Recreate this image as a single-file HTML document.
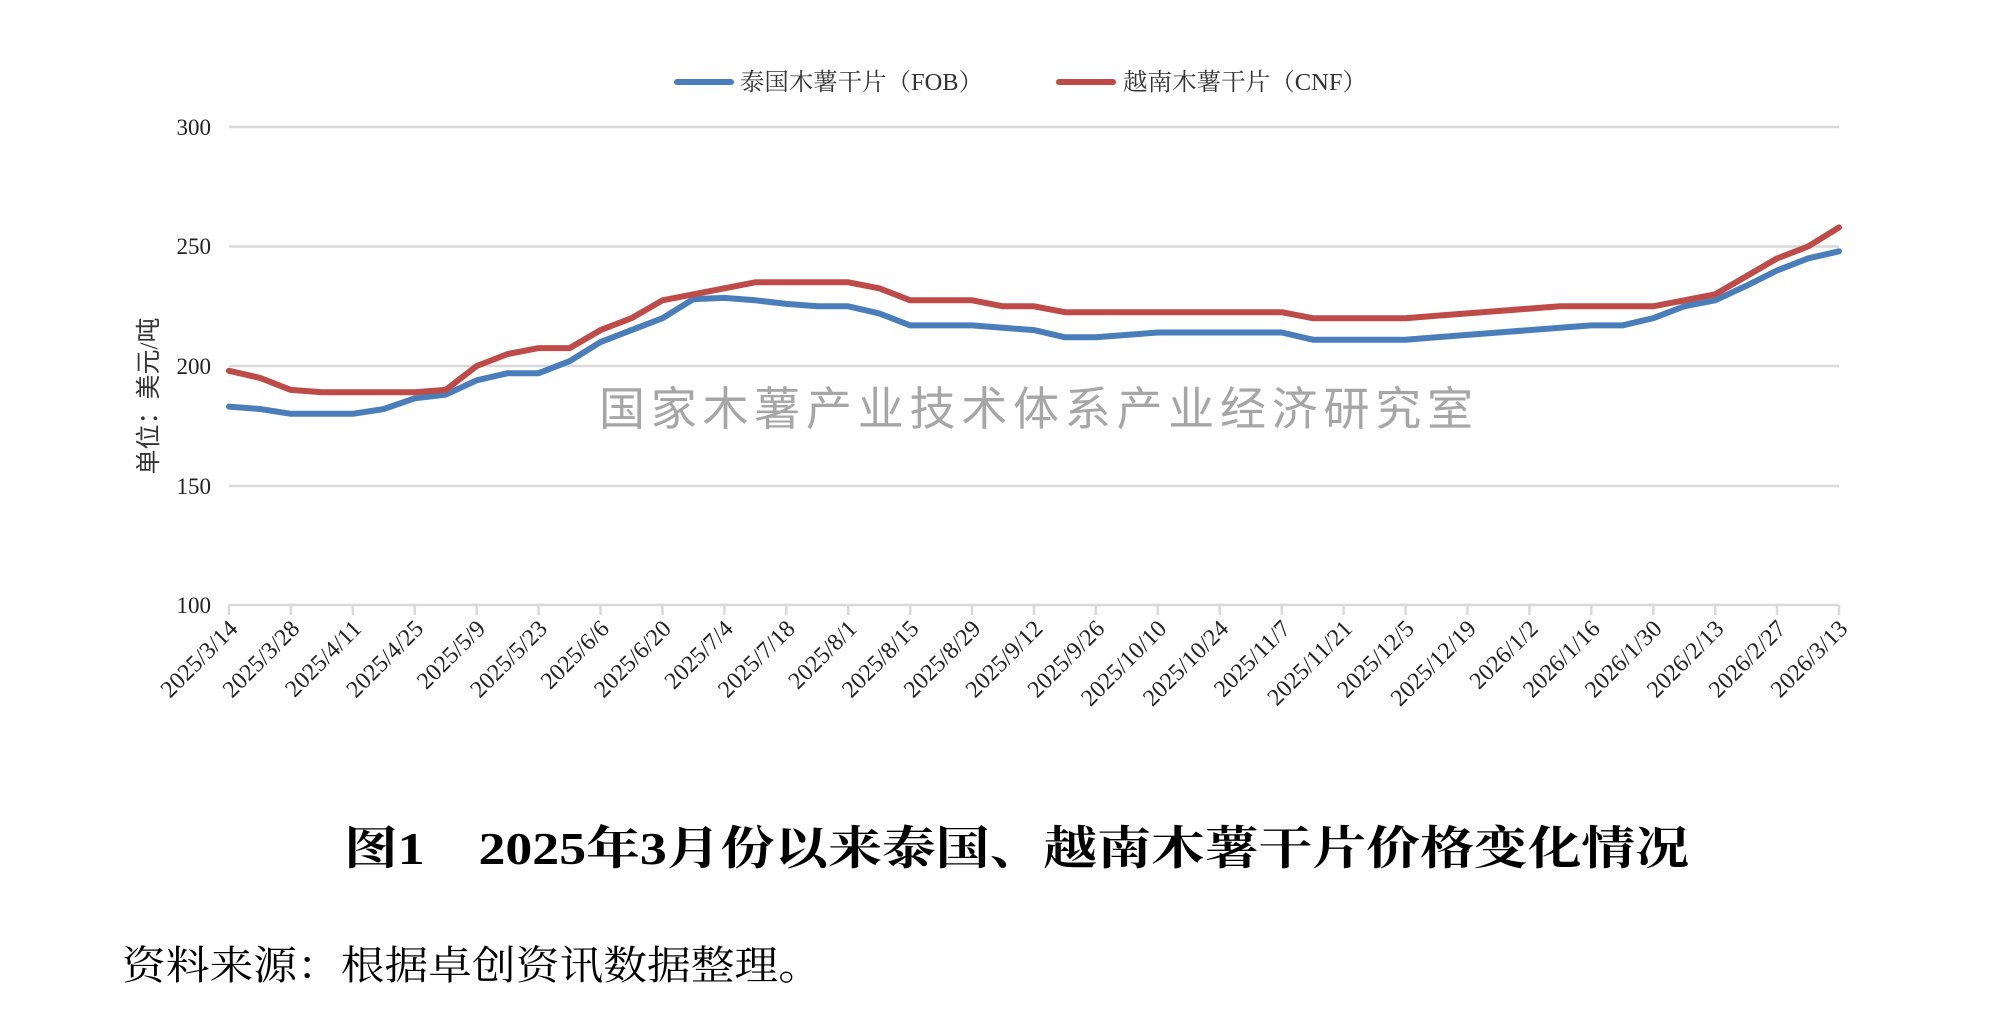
<!DOCTYPE html>
<html><head><meta charset="utf-8"><style>
html,body{margin:0;padding:0;background:#fff;}
svg{display:block;}
</style></head><body>
<svg id="c" width="2006" height="1026" xmlns="http://www.w3.org/2000/svg" font-family="'Liberation Serif','Noto Serif CJK SC',serif">
<g stroke="#d9d9d9" stroke-width="2.5" id="grid">
<line x1="229" y1="127" x2="1839" y2="127"/>
<line x1="229" y1="246.5" x2="1839" y2="246.5"/>
<line x1="229" y1="366" x2="1839" y2="366"/>
<line x1="229" y1="486" x2="1839" y2="486"/>
<line x1="229" y1="605" x2="1839" y2="605"/>
</g>
<g font-size="23" fill="#222" text-anchor="end">
<text x="211" y="135">300</text>
<text x="211" y="254">250</text>
<text x="211" y="374">200</text>
<text x="211" y="494">150</text>
<text x="211" y="613">100</text>
</g>
<text transform="translate(157,396) rotate(-90)" text-anchor="middle" font-size="25" fill="#333" font-family="'Liberation Serif','Noto Sans CJK SC',sans-serif">单位：美元/吨</text>
<text x="1036" y="425" text-anchor="middle" font-size="46" fill="#a6a6a6" textLength="874" lengthAdjust="spacing" font-family="'Liberation Sans','Noto Sans CJK SC',sans-serif">国家木薯产业技术体系产业经济研究室</text>
<g id="ticks" stroke="#d9d9d9" stroke-width="2.5"></g>
<g id="xl" font-size="24" fill="#222"></g>
<polyline id="blue" fill="none" stroke="#4a7ebb" stroke-width="6" stroke-linejoin="round" stroke-linecap="round"/>
<polyline id="red" fill="none" stroke="#be4b48" stroke-width="6" stroke-linejoin="round" stroke-linecap="round"/>
<line x1="677" y1="82" x2="731" y2="82" stroke="#4a7ebb" stroke-width="6" stroke-linecap="round"/>
<text x="740" y="90" font-size="24" fill="#333" textLength="243" lengthAdjust="spacingAndGlyphs">泰国木薯干片（FOB）</text>
<line x1="1059" y1="82" x2="1113" y2="82" stroke="#be4b48" stroke-width="6" stroke-linecap="round"/>
<text x="1123" y="90" font-size="24" fill="#333" textLength="244" lengthAdjust="spacingAndGlyphs">越南木薯干片（CNF）</text>
<text x="344" y="864" font-size="46" font-weight="bold" fill="#000" textLength="1345" lengthAdjust="spacingAndGlyphs">图1　2025年3月份以来泰国、越南木薯干片价格变化情况</text>
<text x="122" y="979" font-size="40" fill="#000" textLength="700" lengthAdjust="spacingAndGlyphs">资料来源：根据卓创资讯数据整理。</text>
</svg>
<script>
var blue=[183,182,180,180,180,182,186.5,188,194,197,197,202,210,215,220,228,228.5,227.5,226,225,225,222,217,217,217,216,215,212,212,213,214,214,214,214,214,211,211,211,211,212,213,214,215,216,217,217,220,225,227.5,233.5,240,245,248];
var red=[198,195,190,189,189,189,189,190,200,205,207.5,207.5,215,220,227.5,230,232.5,235,235,235,235,232.5,227.5,227.5,227.5,225,225,222.5,222.5,222.5,222.5,222.5,222.5,222.5,222.5,220,220,220,220,221,222,223,224,225,225,225,225,227.5,230,237.5,245,250,258];
var x0=229,x1=1839,n=52,step=(x1-x0)/n;
function Y(v){return 605-(v-100)*2.39;}
function pts(a){return a.map(function(v,i){return (x0+i*step).toFixed(1)+","+Y(v).toFixed(1);}).join(" ");}
document.getElementById("blue").setAttribute("points",pts(blue));
document.getElementById("red").setAttribute("points",pts(red));
var labels=["2025/3/14","2025/3/28","2025/4/11","2025/4/25","2025/5/9","2025/5/23","2025/6/6","2025/6/20","2025/7/4","2025/7/18","2025/8/1","2025/8/15","2025/8/29","2025/9/12","2025/9/26","2025/10/10","2025/10/24","2025/11/7","2025/11/21","2025/12/5","2025/12/19","2026/1/2","2026/1/16","2026/1/30","2026/2/13","2026/2/27","2026/3/13"];
var NS="http://www.w3.org/2000/svg",tk=document.getElementById("ticks"),xl=document.getElementById("xl");
labels.forEach(function(l,i){
 var x=x0+i*2*step;
 var ln=document.createElementNS(NS,"line");
 ln.setAttribute("x1",x);ln.setAttribute("x2",x);ln.setAttribute("y1",605);ln.setAttribute("y2",615);tk.appendChild(ln);
 var t=document.createElementNS(NS,"text");
 t.setAttribute("text-anchor","end");
 t.setAttribute("transform","translate("+(x+10)+",630) rotate(-45)");
 t.textContent=l;xl.appendChild(t);
});
</script>
</body></html>
